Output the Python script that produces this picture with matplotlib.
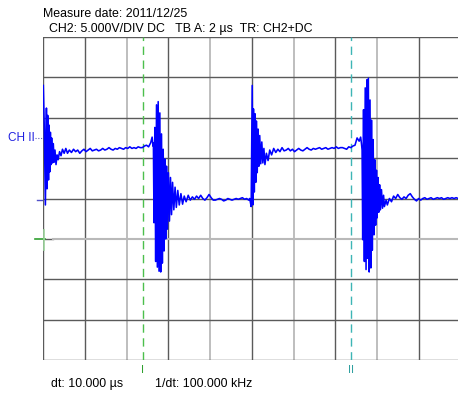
import matplotlib.pyplot as plt
import numpy as np

# CH2 trace, time in us, voltage in V (5 V/div, 2 us/div)
t_us = [
    0.00, 0.05, 0.10, 0.15, 0.18, 0.21, 0.25, 0.27, 0.31, 0.34, 0.37, 0.40,
    0.44, 0.48, 0.52, 0.56, 0.61, 0.66, 0.71, 0.78, 0.85, 0.92, 1.00, 1.08,
    1.16, 1.25, 1.35, 1.45, 1.55, 1.65, 1.75, 1.85, 1.95, 2.05, 2.15, 2.25,
    2.35, 2.45, 2.55, 2.65, 2.75, 2.85, 2.95, 3.05, 3.15, 3.25, 3.35, 3.45,
    3.55, 3.65, 3.75, 3.85, 3.95, 4.05, 4.15, 4.25, 4.35, 4.45, 4.55, 4.65,
    4.75, 4.85, 4.95, 5.05, 5.15, 5.22, 5.26,
    5.28, 5.31, 5.35, 5.39, 5.43, 5.47, 5.51, 5.55, 5.59, 5.63, 5.67, 5.71,
    5.75, 5.79, 5.83, 5.87, 5.91, 5.95, 6.00, 6.05, 6.10, 6.15, 6.20, 6.26,
    6.32, 6.38, 6.45, 6.52, 6.60, 6.68, 6.76, 6.85, 6.95, 7.05, 7.15, 7.25,
    7.35, 7.45, 7.55, 7.65, 7.75, 7.85, 7.95, 8.05, 8.15, 8.25, 8.35, 8.45,
    8.55, 8.65, 8.75, 8.85, 8.95, 9.05, 9.15, 9.25, 9.35, 9.45, 9.55, 9.65,
    9.75, 9.85, 9.90, 9.97,
    10.02, 10.05, 10.08, 10.12, 10.15, 10.19, 10.22, 10.26, 10.30, 10.34,
    10.38, 10.43, 10.48, 10.53, 10.58, 10.63, 10.70, 10.78, 10.86, 10.95,
    11.05, 11.15, 11.25, 11.35, 11.45, 11.55, 11.65, 11.75, 11.85, 11.95,
    12.05, 12.15, 12.25, 12.35, 12.45, 12.55, 12.65, 12.75, 12.85, 12.95,
    13.05, 13.15, 13.25, 13.35, 13.45, 13.55, 13.65, 13.75, 13.85, 13.95,
    14.05, 14.15, 14.25, 14.35, 14.45, 14.55, 14.65, 14.75, 14.85, 14.95,
    15.05, 15.15, 15.22, 15.26,
    15.29, 15.32, 15.36, 15.40, 15.44, 15.48, 15.52, 15.55, 15.59, 15.63,
    15.67, 15.71, 15.74, 15.78, 15.82, 15.86, 15.90, 15.94, 15.98, 16.01,
    16.05, 16.09, 16.13, 16.17, 16.22, 16.27, 16.32, 16.36, 16.44,
    16.5, 16.6, 16.7, 16.8, 16.9, 17.0, 17.1, 17.2, 17.3, 17.4, 17.5, 17.6,
    17.7, 17.8, 17.9, 18.0, 18.1, 18.2, 18.3, 18.4, 18.5, 18.6, 18.7, 18.8,
    18.9, 19.0, 19.1, 19.2, 19.3, 19.4, 19.5, 19.6, 19.7, 19.8, 19.9, 20.0,
]
v_volts = [
    19.0, 13.5, 4.2, 16.2, 6.2, 15.3, 7.3, 14.1, 8.3, 13.2, 9.2, 12.5,
    9.4, 11.8, 9.5, 11.0, 9.2, 10.4, 9.8, 10.8, 10.3, 11.1, 10.6, 11.2,
    10.6, 11.0, 10.7, 11.1, 10.8, 11.0, 10.6, 10.9, 11.1, 10.8, 11.0, 11.2,
    10.9, 11.0, 11.1, 10.9, 11.0, 11.2, 11.0, 11.1, 11.3, 11.1, 11.0, 11.2,
    11.1, 11.3, 11.2, 11.1, 11.3, 11.2, 11.4, 11.2, 11.3, 11.2, 11.4, 11.3,
    11.3, 11.5, 11.6, 11.4, 11.9, 12.6, 11.5,
    11.9, 2.0, 13.8, -2.8, 16.6, -3.5, 17.0, -4.0, 15.6, -4.1, 13.0, -3.0,
    11.1, -1.5, 9.9, 0.0, 9.0, 1.2, 8.2, 2.2, 7.6, 3.0, 7.0, 3.6,
    6.4, 3.9, 6.0, 4.2, 5.6, 4.3, 5.3, 4.6, 5.4, 4.8, 5.2, 4.9,
    5.3, 5.0, 5.4, 5.0, 4.8, 5.1, 5.5, 5.1, 4.8, 4.8, 4.9, 5.0,
    4.9, 4.7, 4.8, 5.0, 4.9, 4.8, 4.9, 5.0, 4.9, 5.0, 5.1, 4.9,
    5.0, 4.8, 5.0, 4.0,
    19.0, 4.2, 16.1, 5.8, 15.5, 7.0, 14.6, 8.2, 13.6, 9.0,
    12.8, 9.3, 12.0, 9.4, 11.2, 9.2, 10.6, 9.7, 11.0, 10.4,
    11.2, 10.7, 11.1, 10.8, 11.3, 10.9, 11.0, 11.2, 10.9, 11.1,
    10.8, 11.0, 11.2, 11.0, 10.9, 11.1, 11.3, 11.1, 11.0, 11.2,
    11.1, 11.2, 11.3, 11.1, 11.2, 11.3, 11.1, 11.2, 11.3, 11.2,
    11.4, 11.2, 11.3, 11.3, 11.2, 11.1, 11.4, 11.3, 11.5, 11.6,
    12.5, 12.1, 12.6, 11.8,
    11.0, -0.1, 16.0, -2.8, 18.7, -3.8, 19.7, -2.4, 19.9, -4.1,
    17.2, -3.6, 14.7, -1.4, 12.3, 0.5, 9.8, 1.7, 8.5, 2.6,
    7.6, 3.3, 6.7, 3.6, 6.1, 3.8, 5.4, 4.0, 4.8,
    4.2, 5.0, 4.6, 5.3, 5.0, 5.5, 5.1, 4.9, 5.2, 5.0, 5.4, 5.6,
    5.2, 4.9, 4.7, 5.0, 4.8, 5.0, 5.1, 4.9, 5.0, 5.1, 4.9, 5.0,
    5.1, 5.0, 5.1, 4.9, 5.0, 5.1, 5.0, 5.1, 5.0, 5.1, 5.0, 5.1,
]

cursor_1 = 4.76          # us
dt = 10.0                # us
cursor_2 = cursor_1 + dt

W, H = 458, 394
fig = plt.figure(figsize=(W / 100, H / 100), dpi=100)
fig.patch.set_facecolor("white")

def px(x, y):
    return x / W, 1 - y / H

# screen: 10 x 2 us wide, 8 x 5 V high, left edge at 43 px
ax = fig.add_axes([43.3 / W, 34 / H, 417 / W, 323 / H])
ax.set_xlim(0, 20)
ax.set_ylim(-15, 25)
ax.axis("off")

dark = "#5a5a5a"
light = "#b9b9b9"
for t in np.arange(0, 21, 2):
    col = light if t in (4, 8, 12, 16) else dark
    ax.axvline(t, color=col, lw=1.3 if col == light else 1.0, zorder=1)
for v in np.arange(-15, 26, 5):
    if v == 0:
        ax.plot([0, 0.45], [0, 0], color=dark, lw=1.0, zorder=1)
        ax.plot([0.45, 20], [0, 0], color=light, lw=1.5, zorder=1)
    else:
        ax.axhline(v, color=dark, lw=1.0, zorder=1)

ax.axvline(cursor_1, color="#4cbf4c", lw=1.0, ls=(0, (6, 4)), zorder=2)
ax.axvline(cursor_2, color="#3db5b5", lw=1.0, ls=(0, (6, 4)), zorder=2)

ax.plot(t_us, v_volts, color="#0000ff", lw=1.15, zorder=3)

# channel markers on the left edge
fig.text(*px(8, 138), "CH II", color="#2020e0", fontsize=8.5,
         family="Liberation Sans", va="center", ha="left")
fig.add_artist(plt.Line2D([35 / W, 43 / W], [1 - 138 / H] * 2,
                          color="#6060c0", lw=0.8, ls=(0, (1, 1.5))))
fig.add_artist(plt.Line2D([37 / W, 42 / W], [1 - 200 / H] * 2,
                          color="#5050c8", lw=1.0))
fig.add_artist(plt.Line2D([35 / W, 45 / W], [1 - 239 / H] * 2,
                          color="#30a030", lw=1.2))
fig.add_artist(plt.Line2D([43.5 / W, 43.5 / W], [1 - 230 / H, 1 - 250 / H],
                          color="#a0d8a0", lw=1.2))

fs = 8.9
fam = "Liberation Sans"
fig.text(*px(43, 14), "Measure date: 2011/12/25", fontsize=fs, family=fam,
         va="center")
fig.text(*px(49, 29), "CH2: 5.000V/DIV DC   TB A: 2 \u00b5s  TR: CH2+DC",
         fontsize=fs, family=fam, va="center")
fig.text(*px(51, 384), "dt: %.3f \u00b5s" % dt, fontsize=fs, family=fam,
         va="center")
fig.text(*px(155, 384), "1/dt: %.3f kHz" % (1000.0 / dt), fontsize=fs,
         family=fam, va="center")

x1 = 43.3 + cursor_1 * 417 / 20
x2 = 43.3 + cursor_2 * 417 / 20
fig.text(*px(x1, 370), "I", color="#30a030", fontsize=8, family=fam,
         ha="center", va="center")
fig.text(*px(x2, 370), "II", color="#30a0a0", fontsize=8, family=fam,
         ha="center", va="center")

plt.savefig("out.png", dpi=100)
plt.close()
